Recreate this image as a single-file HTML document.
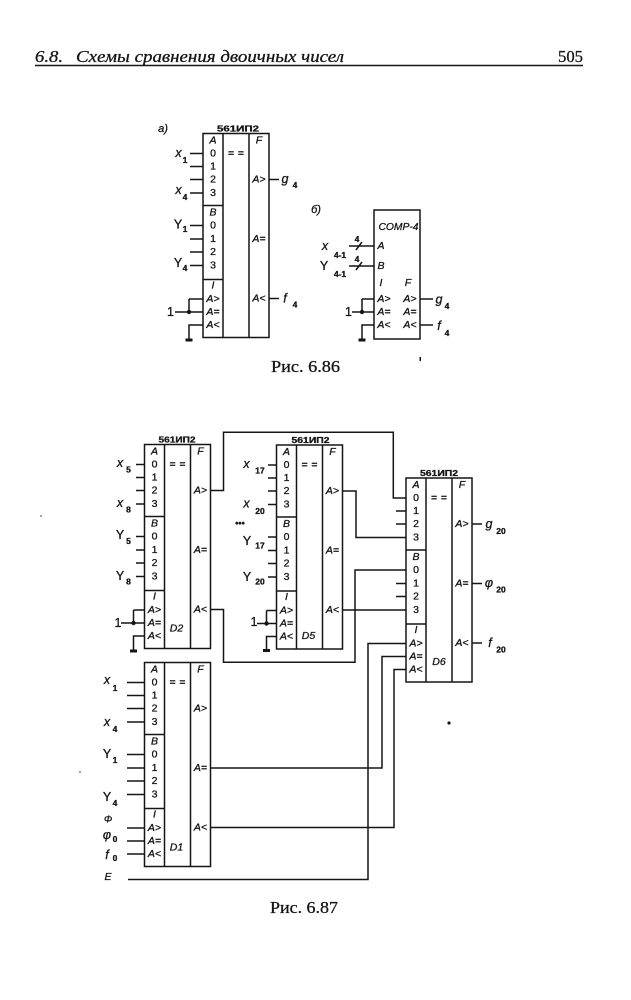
<!DOCTYPE html>
<html><head><meta charset="utf-8">
<style>
html,body{margin:0;padding:0;background:#fff;}
svg{display:block}
</style></head>
<body>
<svg width="631" height="1000" viewBox="0 0 631 1000" xmlns="http://www.w3.org/2000/svg">
<style>
.w{fill:none;stroke:#151515;stroke-width:1.5}
text{fill:#151515;stroke:#151515;stroke-width:0.3}
.c{font-family:"Liberation Sans",sans-serif;font-size:10.5px;text-anchor:middle;dominant-baseline:central}
.ci{font-style:italic}
.tp{font-family:"Liberation Sans",sans-serif;font-size:8px;font-weight:bold}
.sg{font-family:"Liberation Sans",sans-serif;font-style:italic;font-size:12.5px;text-anchor:middle;dominant-baseline:central}
.sy{font-family:"Liberation Sans",sans-serif;font-size:12.5px;text-anchor:middle;dominant-baseline:central}
.sb{font-family:"Liberation Sans",sans-serif;font-weight:bold;font-size:8.5px;text-anchor:middle;dominant-baseline:central}
.hd{font-family:"Liberation Serif",serif;font-style:italic;font-size:17px}
.pn{font-family:"Liberation Serif",serif;font-size:17px}
</style>

<!-- Header -->
<text class="hd" x="35" y="62" textLength="28" lengthAdjust="spacingAndGlyphs">6.8.</text>
<text class="hd" x="76" y="62" textLength="268" lengthAdjust="spacingAndGlyphs">Схемы сравнения двоичных чисел</text>
<text class="pn" x="558" y="62" textLength="25" lengthAdjust="spacingAndGlyphs">505</text>
<line x1="35" y1="65.5" x2="583" y2="65.5" stroke="#151515" stroke-width="1.4"/>

<!-- ===== Fig 6.86 a ===== -->
<text class="sg" x="163" y="129" style="font-size:11px">а)</text>
<g transform="translate(203,133.5)">
<rect class="w" x="0" y="0" width="66" height="204"/>
<path class="w" d="M20 0V204M46 0V204M0 72H20M0 146H20"/>
<text class="tp" x="14" y="-2" textLength="42" lengthAdjust="spacingAndGlyphs">561ИП2</text>
<text class="c ci" x="10" y="7">A</text>
<text class="c" x="10" y="20">0</text>
<text class="c" x="10" y="33">1</text>
<text class="c" x="10" y="46">2</text>
<text class="c" x="10" y="59.5">3</text>
<text class="c ci" x="10" y="79">B</text>
<text class="c" x="10" y="92">0</text>
<text class="c" x="10" y="105.5">1</text>
<text class="c" x="10" y="118.5">2</text>
<text class="c" x="10" y="132">3</text>
<text class="c ci" x="10" y="152">I</text>
<text class="c ci" x="10" y="165.5">A&gt;</text>
<text class="c ci" x="10" y="178.5">A=</text>
<text class="c ci" x="10" y="191.5">A&lt;</text>
<text class="c" x="33" y="20" textLength="16">= =</text>
<text class="c ci" x="56" y="7">F</text>
<text class="c ci" x="56" y="46">A&gt;</text>
<text class="c ci" x="56" y="105.5">A=</text>
<text class="c ci" x="56" y="165">A&lt;</text>
</g>
<path class="w" d="M190 153.5H203M190 166.5H203M190 179.5H203M190 193H203M190 225.5H203M190 239H203M190 252H203M190 265.5H203
M175 312H203M189 299V312M189 299H203M203 325H189V339
M269 179.5H279M269 298.5H279"/>
<circle cx="189" cy="312" r="2.2" fill="#151515"/>
<rect x="185.5" y="338.5" width="7" height="3" fill="#151515"/>
<text class="sg" x="178.5" y="153">x</text><text class="sb" x="185" y="160">1</text>
<text class="sg" x="178.5" y="190">x</text><text class="sb" x="185" y="197">4</text>
<text class="sy" x="178" y="224.5">Y</text><text class="sb" x="185" y="229">1</text>
<text class="sy" x="178" y="263">Y</text><text class="sb" x="185" y="268">4</text>
<text class="sy" x="170.5" y="312">1</text>
<text class="sg" x="285" y="179">g</text><text class="sb" x="295" y="185">4</text>
<text class="sg" x="285" y="298.5">f</text><text class="sb" x="295" y="304.5">4</text>

<!-- ===== Fig 6.86 b ===== -->
<text class="sg" x="316" y="210" style="font-size:11px">б)</text>
<rect class="w" x="374" y="210" width="46" height="129"/>
<text class="c ci" x="398.5" y="227" textLength="40" lengthAdjust="spacingAndGlyphs">COMP-4</text>
<text class="c ci" x="381" y="246">A</text>
<text class="c ci" x="381" y="266">B</text>
<text class="c ci" x="381" y="283">I</text>
<text class="c ci" x="408" y="283">F</text>
<text class="c ci" x="384" y="299">A&gt;</text>
<text class="c ci" x="384" y="312">A=</text>
<text class="c ci" x="384" y="325">A&lt;</text>
<text class="c ci" x="410" y="299">A&gt;</text>
<text class="c ci" x="410" y="312">A=</text>
<text class="c ci" x="410" y="325">A&lt;</text>
<path class="w" d="M349 246H374M349 266H374M356 250L362 242M356 270L362 262
M352 312H374M362 299V312M362 299H374M374 325H362V339
M420 299H433M420 325H433"/>
<circle cx="362" cy="312" r="2.2" fill="#151515"/>
<rect x="358.5" y="338.5" width="7" height="3" fill="#151515"/>
<text class="sb" x="357" y="239">4</text>
<text class="sb" x="357" y="259">4</text>
<text class="sg" x="325" y="246">x</text><text class="sb" x="340" y="255">4-1</text>
<text class="sy" x="324" y="266">Y</text><text class="sb" x="340" y="274">4-1</text>
<text class="sy" x="348.5" y="312">1</text>
<text class="sg" x="439" y="299.5">g</text><text class="sb" x="447" y="306">4</text>
<text class="sg" x="439" y="326">f</text><text class="sb" x="447" y="333">4</text>
<rect x="419.5" y="357" width="1.5" height="4" fill="#151515"/>

<text class="pn" x="271" y="372" textLength="69" lengthAdjust="spacingAndGlyphs">Рис. 6.86</text>

<!-- ===== Fig 6.87 ===== -->
<!-- D2 -->
<g transform="translate(144.5,444.5)">
<rect class="w" x="0" y="0" width="66" height="204"/>
<path class="w" d="M20 0V204M46 0V204M0 72H20M0 146H20"/>
<text class="tp" x="14" y="-2" textLength="37" lengthAdjust="spacingAndGlyphs">561ИП2</text>
<text class="c ci" x="10" y="7">A</text>
<text class="c" x="10" y="20">0</text>
<text class="c" x="10" y="33">1</text>
<text class="c" x="10" y="46">2</text>
<text class="c" x="10" y="59.5">3</text>
<text class="c ci" x="10" y="79">B</text>
<text class="c" x="10" y="92">0</text>
<text class="c" x="10" y="105.5">1</text>
<text class="c" x="10" y="118.5">2</text>
<text class="c" x="10" y="132">3</text>
<text class="c ci" x="10" y="152">I</text>
<text class="c ci" x="10" y="165.5">A&gt;</text>
<text class="c ci" x="10" y="178.5">A=</text>
<text class="c ci" x="10" y="191.5">A&lt;</text>
<text class="c" x="33" y="20" textLength="16">= =</text>
<text class="c ci" x="56" y="7">F</text>
<text class="c ci" x="56" y="46">A&gt;</text>
<text class="c ci" x="56" y="105.5">A=</text>
<text class="c ci" x="56" y="165">A&lt;</text>
<text class="c ci" x="32" y="184">D2</text>
</g>
<path class="w" d="M136 464.5H144.5M136 477.5H144.5M136 490.5H144.5M136 504H144.5M136 536.5H144.5M136 550H144.5M136 563H144.5M136 576.5H144.5
M121 623H144.5M133.5 610V623M133.5 610H144.5M144.5 636H133.5V650"/>
<circle cx="133.5" cy="623" r="2.2" fill="#151515"/>
<rect x="130" y="649.5" width="7" height="3" fill="#151515"/>
<text class="sg" x="120" y="463">x</text><text class="sb" x="128.5" y="469.5">5</text>
<text class="sg" x="120" y="503">x</text><text class="sb" x="128.5" y="509.5">8</text>
<text class="sy" x="120" y="535">Y</text><text class="sb" x="128.5" y="541">5</text>
<text class="sy" x="120" y="576">Y</text><text class="sb" x="128.5" y="581.5">8</text>
<text class="sy" x="118" y="623">1</text>

<!-- D5 -->
<g transform="translate(276.5,445)">
<rect class="w" x="0" y="0" width="66" height="204"/>
<path class="w" d="M20 0V204M46 0V204M0 72H20M0 146H20"/>
<text class="tp" x="15" y="-2" textLength="38" lengthAdjust="spacingAndGlyphs">561ИП2</text>
<text class="c ci" x="10" y="7">A</text>
<text class="c" x="10" y="20">0</text>
<text class="c" x="10" y="33">1</text>
<text class="c" x="10" y="46">2</text>
<text class="c" x="10" y="59.5">3</text>
<text class="c ci" x="10" y="79">B</text>
<text class="c" x="10" y="92">0</text>
<text class="c" x="10" y="105.5">1</text>
<text class="c" x="10" y="118.5">2</text>
<text class="c" x="10" y="132">3</text>
<text class="c ci" x="10" y="152">I</text>
<text class="c ci" x="10" y="165.5">A&gt;</text>
<text class="c ci" x="10" y="178.5">A=</text>
<text class="c ci" x="10" y="191.5">A&lt;</text>
<text class="c" x="33" y="20" textLength="16">= =</text>
<text class="c ci" x="56" y="7">F</text>
<text class="c ci" x="56" y="46">A&gt;</text>
<text class="c ci" x="56" y="105.5">A=</text>
<text class="c ci" x="56" y="165">A&lt;</text>
<text class="c ci" x="32" y="191">D5</text>
</g>
<path class="w" d="M268 465H276.5M268 478H276.5M268 491H276.5M268 504.5H276.5M268 537H276.5M268 550.5H276.5M268 563.5H276.5M268 577H276.5
M257 623.5H276.5M266.5 610.5V623.5M266.5 610.5H276.5M276.5 636.5H266.5V649.5"/>
<circle cx="266.5" cy="623.5" r="2.2" fill="#151515"/>
<rect x="263" y="649" width="7" height="3" fill="#151515"/>
<text class="sg" x="246.5" y="464">x</text><text class="sb" x="260" y="470.5">17</text>
<text class="sg" x="246.5" y="503.5">x</text><text class="sb" x="260" y="511">20</text>
<text class="sb" x="240" y="523" style="font-size:9px">•••</text>
<text class="sy" x="247" y="541">Y</text><text class="sb" x="260" y="545.5">17</text>
<text class="sy" x="247" y="577">Y</text><text class="sb" x="260" y="581.5">20</text>
<text class="sy" x="254" y="622">1</text>

<!-- D6 -->
<g transform="translate(406,478)">
<rect class="w" x="0" y="0" width="66" height="204"/>
<path class="w" d="M20 0V204M46 0V204M0 72H20M0 146H20"/>
<text class="tp" x="14" y="-2" textLength="38" lengthAdjust="spacingAndGlyphs">561ИП2</text>
<text class="c ci" x="10" y="7">A</text>
<text class="c" x="10" y="20">0</text>
<text class="c" x="10" y="33">1</text>
<text class="c" x="10" y="46">2</text>
<text class="c" x="10" y="59.5">3</text>
<text class="c ci" x="10" y="79">B</text>
<text class="c" x="10" y="92">0</text>
<text class="c" x="10" y="105.5">1</text>
<text class="c" x="10" y="118.5">2</text>
<text class="c" x="10" y="132">3</text>
<text class="c ci" x="10" y="152">I</text>
<text class="c ci" x="10" y="165.5">A&gt;</text>
<text class="c ci" x="10" y="178.5">A=</text>
<text class="c ci" x="10" y="191.5">A&lt;</text>
<text class="c" x="33" y="20" textLength="16">= =</text>
<text class="c ci" x="56" y="7">F</text>
<text class="c ci" x="56" y="46">A&gt;</text>
<text class="c ci" x="56" y="105.5">A=</text>
<text class="c ci" x="56" y="165">A&lt;</text>
<text class="c ci" x="33" y="184">D6</text>
</g>
<path class="w" d="M396 511H406M396 524H406M396 583.5H406M396 596.5H406
M472 524H482M472 583.5H482M472 643H482"/>
<text class="sg" x="489" y="524">g</text><text class="sb" x="501" y="531">20</text>
<text class="sg" x="489" y="583">φ</text><text class="sb" x="501" y="589.5">20</text>
<text class="sg" x="490" y="643">f</text><text class="sb" x="501" y="649.5">20</text>

<!-- D1 -->
<g transform="translate(144.5,662.5)">
<rect class="w" x="0" y="0" width="66" height="204"/>
<path class="w" d="M20 0V204M46 0V204M0 72H20M0 146H20"/>
<text class="c ci" x="10" y="7">A</text>
<text class="c" x="10" y="20">0</text>
<text class="c" x="10" y="33">1</text>
<text class="c" x="10" y="46">2</text>
<text class="c" x="10" y="59.5">3</text>
<text class="c ci" x="10" y="79">B</text>
<text class="c" x="10" y="92">0</text>
<text class="c" x="10" y="105.5">1</text>
<text class="c" x="10" y="118.5">2</text>
<text class="c" x="10" y="132">3</text>
<text class="c ci" x="10" y="152">I</text>
<text class="c ci" x="10" y="165.5">A&gt;</text>
<text class="c ci" x="10" y="178.5">A=</text>
<text class="c ci" x="10" y="191.5">A&lt;</text>
<text class="c" x="33" y="20" textLength="16">= =</text>
<text class="c ci" x="56" y="7">F</text>
<text class="c ci" x="56" y="46">A&gt;</text>
<text class="c ci" x="56" y="105.5">A=</text>
<text class="c ci" x="56" y="165">A&lt;</text>
<text class="c ci" x="32" y="185">D1</text>
</g>
<path class="w" d="M127 682.5H144.5M127 695.5H144.5M127 708.5H144.5M127 722H144.5M127 754.5H144.5M127 768H144.5M127 781H144.5M127 794.5H144.5M127 828H144.5M127 841H144.5M127 854H144.5"/>
<text class="sg" x="107" y="680">x</text><text class="sb" x="115" y="688">1</text>
<text class="sg" x="107" y="722">x</text><text class="sb" x="115" y="729">4</text>
<text class="sy" x="107" y="754">Y</text><text class="sb" x="115" y="760">1</text>
<text class="sy" x="107" y="797">Y</text><text class="sb" x="115" y="803">4</text>
<text class="sg" x="108" y="820" style="font-size:10px">Φ</text>
<text class="sg" x="107" y="835">φ</text><text class="sb" x="115" y="839">0</text>
<text class="sg" x="107" y="855">f</text><text class="sb" x="115" y="858">0</text>
<text class="sg" x="108" y="877" style="font-size:10.5px">E</text>

<!-- Interconnect wires -->
<path class="w" d="M210.5 490.5H223.5V432.3H393.3V498H406
M342.5 491H356V537.5H406
M210.5 609.5H223.5V662.3H355V570H406
M342.5 610H406
M128 879.5H368V643.5H406
M210.5 768H382V656.5H406
M210.5 827.5H394V669.5H406"/>

<!-- scan specks -->
<circle cx="449" cy="723" r="1.6" fill="#151515"/>
<circle cx="80" cy="772" r="0.8" fill="#333"/>
<circle cx="41" cy="516" r="0.8" fill="#333"/>

<text class="pn" x="270" y="913" textLength="68" lengthAdjust="spacingAndGlyphs">Рис. 6.87</text>
</svg>
</body></html>
